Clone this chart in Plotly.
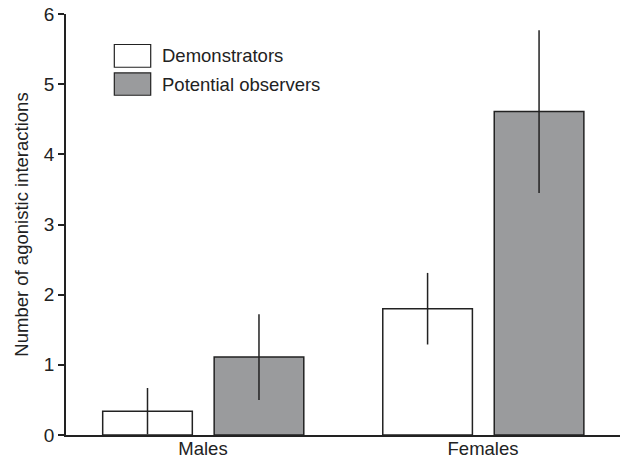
import plotly.graph_objects as go

categories = ["Males", "Females"]
demonstrators = [0.34, 1.80]
demonstrators_err = [0.33, 0.51]
observers = [1.11, 4.61]
observers_err = [0.61, 1.16]
series_names = ["Demonstrators", "Potential observers"]
y_ticks = [0, 1, 2, 3, 4, 5, 6]

INK = "#222222"
GRAY = "#9a9b9d"
FONT = "Liberation Sans, Arial, Helvetica, sans-serif"

fig = go.Figure()
fig.add_trace(go.Bar(
    x=categories, y=demonstrators, name=series_names[0],
    width=0.32, offset=-0.358,
    marker=dict(color="white", line=dict(color=INK, width=1.5)),
    error_y=dict(type="data", array=demonstrators_err, color=INK, thickness=1.5, width=0),
    showlegend=False,
))
fig.add_trace(go.Bar(
    x=categories, y=observers, name=series_names[1],
    width=0.32, offset=0.04,
    marker=dict(color=GRAY, line=dict(color=INK, width=1.5)),
    error_y=dict(type="data", array=observers_err, color=INK, thickness=1.5, width=0),
    showlegend=False,
))

# legend drawn manually (large boxes)
leg = [(0.9275, 0.8735, "white"), (0.860, 0.807, GRAY)]
for (y1, y0, col), name in zip(leg, series_names):
    fig.add_shape(type="rect", xref="paper", yref="paper",
                  x0=0.0872, x1=0.1529, y0=y0, y1=y1,
                  fillcolor=col, line=dict(color=INK, width=1.2))
    fig.add_annotation(xref="paper", yref="paper", x=0.1700, y=(y0 + y1) / 2,
                       text=name, showarrow=False, xanchor="left", yanchor="middle",
                       font=dict(size=18.5, color=INK, family=FONT))

fig.update_layout(
    width=620, height=460,
    margin=dict(l=66, r=0, t=14, b=25),
    paper_bgcolor="white", plot_bgcolor="white",
    barmode="overlay",
    font=dict(family=FONT, color=INK, size=18),
    xaxis=dict(range=[-0.489, 1.489], showline=True, linecolor=INK, linewidth=1.5,
               ticks="", showgrid=False, zeroline=False, automargin=False,
               ticklabelstandoff=-4,
               tickfont=dict(size=18.5, color=INK)),
    yaxis=dict(range=[0, 6], tickvals=y_ticks, showline=True, linecolor=INK, linewidth=1.5,
               ticks="outside", ticklen=6, tickwidth=1.5, tickcolor=INK, automargin=False,
               showgrid=False, zeroline=False, tickfont=dict(size=19, color=INK),
               title=dict(text="Number of agonistic interactions", font=dict(size=18.5, color=INK),
                          standoff=10)),
)

fig.write_html("out.html")
